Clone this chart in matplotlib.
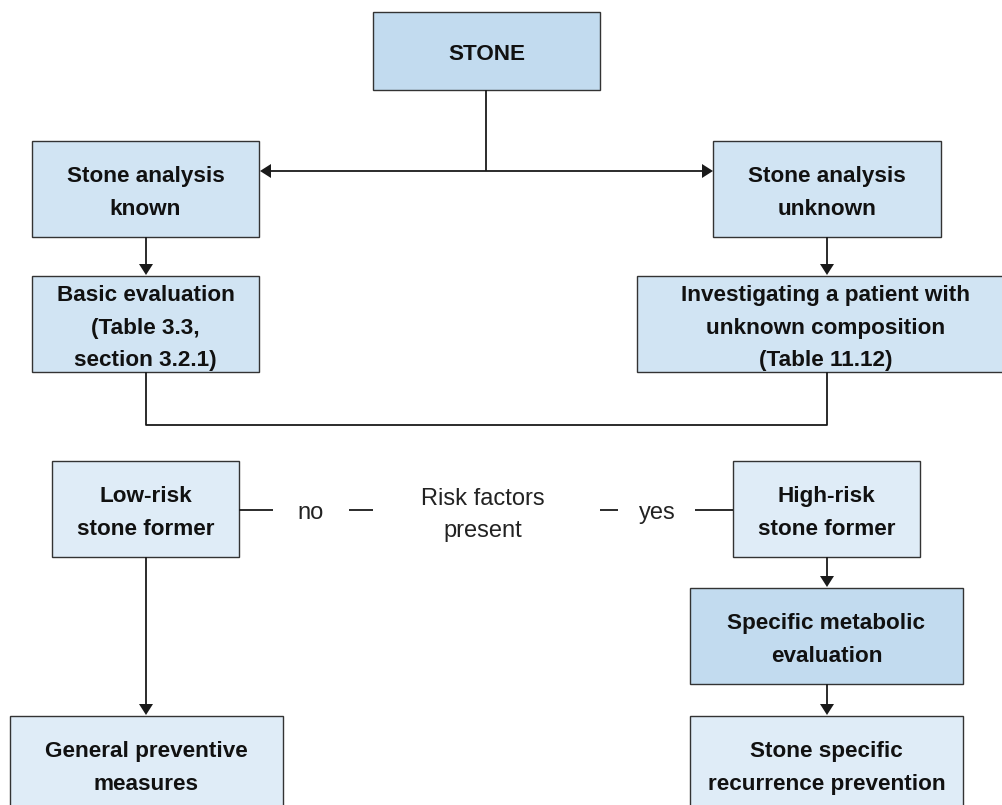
import matplotlib.pyplot as plt
from matplotlib.patches import Rectangle, Polygon

plt.rcParams['font.family'] = ['Liberation Sans', 'DejaVu Sans']

# box labels
labels = {
    'stone': 'STONE',
    'known': 'Stone analysis\nknown',
    'unknown': 'Stone analysis\nunknown',
    'basic': 'Basic evaluation\n(Table 3.3,\nsection 3.2.1)',
    'invest': 'Investigating a patient with\nunknown composition\n(Table 11.12)',
    'low': 'Low-risk\nstone former',
    'high': 'High-risk\nstone former',
    'metab': 'Specific metabolic\nevaluation',
    'general': 'General preventive\nmeasures',
    'specific': 'Stone specific\nrecurrence prevention',
}
risk_text = 'Risk factors\npresent'
no_text = 'no'
yes_text = 'yes'

# layout in pixels: x0, y0 (top), x1, y1 (bottom), fill
dark = '#c2dbef'
mid = '#d1e4f3'
light = '#dfecf7'
boxes = {
    'stone': (373, 12, 600, 90, dark),
    'known': (32, 141, 259, 237, mid),
    'unknown': (713, 141, 941, 237, mid),
    'basic': (32, 276, 259, 372, mid),
    'invest': (637, 276, 1015, 372, mid),
    'low': (52, 461, 239, 557, light),
    'high': (733, 461, 920, 557, light),
    'metab': (690, 588, 963, 684, dark),
    'general': (10, 716, 283, 830, light),
    'specific': (690, 716, 963, 830, light),
}

fig = plt.figure(figsize=(10.03, 8.05), dpi=100)
ax = fig.add_axes([0, 0, 1, 1])
ax.set_xlim(0, 1003)
ax.set_ylim(805, 0)
ax.axis('off')

lc = '#1a1a1a'
lw = 1.3


def line(xs, ys):
    ax.plot(xs, ys, color=lc, lw=lw, solid_capstyle='butt')


def arrow(x0, y0, x1, y1, hl=11, hw=7):
    # line plus a filled triangle at (x1, y1)
    if x0 == x1:
        d = 1 if y1 > y0 else -1
        line([x0, x1], [y0, y1 - d * hl])
        tri = [(x1, y1), (x1 - hw, y1 - d * hl), (x1 + hw, y1 - d * hl)]
    else:
        d = 1 if x1 > x0 else -1
        line([x0, x1 - d * hl], [y0, y1])
        tri = [(x1, y1), (x1 - d * hl, y1 - hw), (x1 - d * hl, y1 + hw)]
    ax.add_patch(Polygon(tri, closed=True, color=lc, lw=0))


for key, (x0, y0, x1, y1, fc) in boxes.items():
    ax.add_patch(Rectangle((x0, y0), x1 - x0, y1 - y0, facecolor=fc,
                           edgecolor='#333333', lw=1.0, zorder=1))
    tx = (x0 + x1) / 2
    ty = (y0 + y1) / 2 + 4
    if key in ('general', 'specific'):
        ty = 768
    if key == 'invest':
        tx = 826
    ax.text(tx, ty, labels[key], ha='center', va='center',
            fontsize=16.2, fontweight='bold', linespacing=1.7,
            color='#111111', zorder=2)

# connectors
line([486, 486], [90, 171])
arrow(486, 171, 260, 171)
arrow(486, 171, 713, 171)
arrow(146, 237, 146, 275)
arrow(827, 237, 827, 275)
line([146, 146, 827, 827], [372, 425, 425, 372])

# risk factors row
ry = 510
line([239, 273], [ry, ry])
line([349, 373], [ry, ry])
line([600, 618], [ry, ry])
line([695, 733], [ry, ry])
ax.text(311, ry + 3, no_text, ha='center', va='center', fontsize=17, color='#222222')
ax.text(657, ry + 3, yes_text, ha='center', va='center', fontsize=17, color='#222222')
ax.text(483, ry + 5, risk_text, ha='center', va='center', fontsize=17,
        color='#222222', linespacing=1.55)

arrow(146, 557, 146, 715)
arrow(827, 557, 827, 587)
arrow(827, 684, 827, 715)

fig.savefig('out.png', dpi=100)
